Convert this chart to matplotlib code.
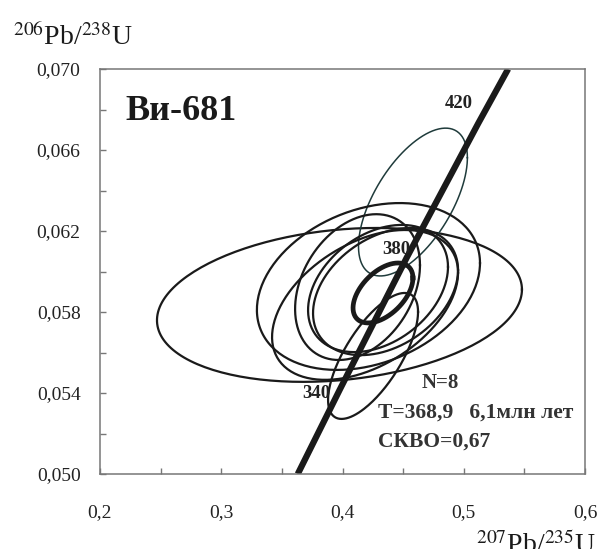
import numpy as np
import matplotlib.pyplot as plt
from matplotlib.ticker import MultipleLocator, FixedLocator

plt.rcParams['font.family'] = ['Liberation Serif', 'DejaVu Serif']
plt.rcParams['mathtext.fontset'] = 'stix'

# error ellipses: 207Pb/235U, 206Pb/238U, half-extents and correlation
center_x = [0.3975, 0.4581, 0.4252, 0.4214, 0.4186, 0.4124, 0.4293, 0.4355]
center_y = [0.05835, 0.06343, 0.05583, 0.05926, 0.05835, 0.05923, 0.05916, 0.05901]
sigma_x = [0.1505, 0.0449, 0.0371, 0.0920, 0.0767, 0.0515, 0.0577, 0.0598]
sigma_y = [0.0038, 0.00365, 0.00311, 0.00412, 0.0037, 0.0036, 0.00314, 0.00314]
rho = [0.2, 0.6, 0.7, 0.28, 0.43, 0.3, 0.34, 0.34]
ellipse_colors = ['#1a1a1a', '#1f3b3b', '#1a1a1a', '#1a1a1a',
                  '#1a1a1a', '#1a1a1a', '#1a1a1a', '#1a1a1a']

# concordia age ellipse
age_x, age_y = 0.4334, 0.05894
age_sx, age_sy, age_rho = 0.0247, 0.00148, 0.5

# concordia curve
concordia_x = [0.3631, 0.3977, 0.4531, 0.5119, 0.5366]
concordia_y = [0.0500, 0.05416, 0.0607, 0.06731, 0.0700]
age_labels = ['340', '380', '420']
age_label_x = [0.378, 0.444, 0.496]
age_label_y = [0.0540, 0.0611, 0.0683]


def ellipse(cx, cy, sx, sy, r):
    t = np.linspace(0, 2 * np.pi, 200)
    x = cx + sx * np.cos(t)
    y = cy + sy * (r * np.cos(t) + np.sqrt(1 - r ** 2) * np.sin(t))
    return x, y


fig = plt.figure(figsize=(6.01, 5.49), dpi=100)
ax = fig.add_axes([100 / 601, 75 / 549, 485 / 601, 405 / 549])

for i in range(len(center_x)):
    ex, ey = ellipse(center_x[i], center_y[i], sigma_x[i], sigma_y[i], rho[i])
    lw = 1.1 if i == 1 else 1.6
    ax.plot(ex, ey, color=ellipse_colors[i], lw=lw)

ex, ey = ellipse(age_x, age_y, age_sx, age_sy, age_rho)
ax.plot(ex, ey, color='#1a1a1a', lw=3.4)

ax.plot(concordia_x, concordia_y, color='#1a1a1a', lw=4.5, solid_capstyle='butt')

for lab, lx, ly in zip(age_labels, age_label_x, age_label_y):
    ax.text(lx, ly, lab, fontsize=13.5, fontweight='bold', ha='center', va='center',
            color='#222222')

ax.text(0.2206, 0.06748, 'Ви-681', fontsize=26, fontweight='bold', va='baseline',
        color='#1a1a1a')
ax.text(0.4805, 0.05449, 'N=8', fontsize=15, fontweight='bold', ha='center',
        va='center', color='#333333')
ax.text(0.4293, 0.05301, 'T=368,9   6,1млн лет', fontsize=15.5, fontweight='bold',
        va='center', color='#333333')
ax.text(0.4293, 0.05158, 'СКВО=0,67', fontsize=15.5, fontweight='bold',
        va='center', color='#333333')

ax.set_xlim(0.2, 0.6)
ax.set_ylim(0.050, 0.070)

xt = [0.2, 0.3, 0.4, 0.5, 0.6]
yt = [0.050, 0.054, 0.058, 0.062, 0.066, 0.070]
ax.xaxis.set_major_locator(FixedLocator(xt))
ax.yaxis.set_major_locator(FixedLocator(yt))
ax.set_xticklabels([f'{v:.1f}'.replace('.', ',') for v in xt])
ax.set_yticklabels([f'{v:.3f}'.replace('.', ',') for v in yt])
ax.xaxis.set_minor_locator(MultipleLocator(0.05))
ax.yaxis.set_minor_locator(MultipleLocator(0.002))
ax.tick_params(which='both', direction='in', length=4, width=1, color='#777777',
               labelsize=14, labelcolor='#222222')
ax.tick_params(axis='x', pad=22)
ax.tick_params(axis='y', pad=14)
for s in ax.spines.values():
    s.set_color('#777777')
    s.set_linewidth(1.1)

fig.text(0.022, 0.918, r'$^{206}$Pb/$^{238}$U', fontsize=20, color='#1a1a1a')
fig.text(0.992, -0.008, r'$^{207}$Pb/$^{235}$U', fontsize=20, color='#1a1a1a',
         ha='right', va='baseline')

fig.savefig('out.png', dpi=100)
